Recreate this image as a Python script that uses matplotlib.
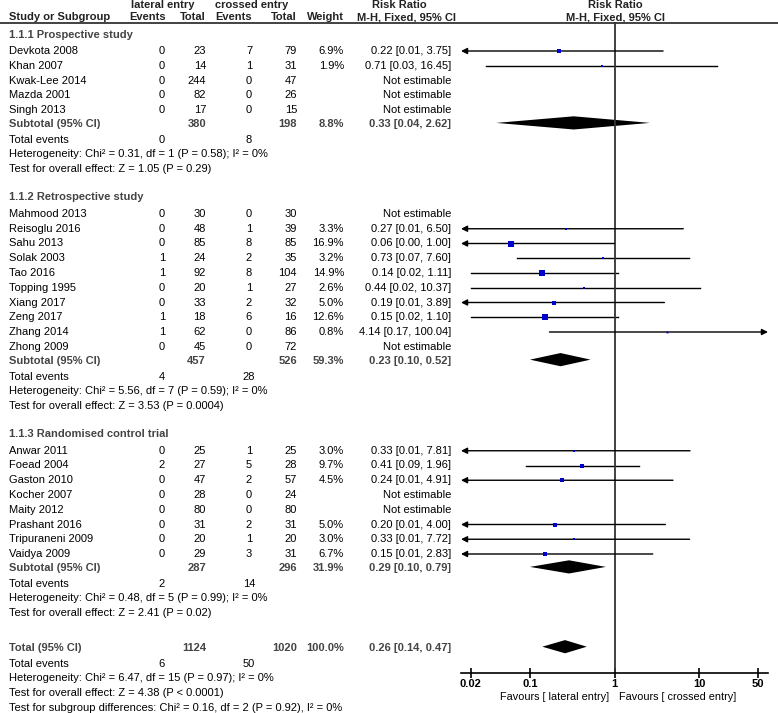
import numpy as np
import matplotlib.pyplot as plt

plt.rcParams['font.family'] = ['Liberation Sans', 'DejaVu Sans']
plt.rcParams['font.size'] = 8

# ---- data ----
group_titles = ['1.1.1 Prospective study', '1.1.2 Retrospective study', '1.1.3 Randomised control trial']

study_group = [0, 0, 0, 0, 0,
               1, 1, 1, 1, 1, 1, 1, 1, 1, 1,
               2, 2, 2, 2, 2, 2, 2, 2]
study_names = ['Devkota 2008', 'Khan 2007', 'Kwak-Lee 2014', 'Mazda 2001', 'Singh 2013',
               'Mahmood 2013', 'Reisoglu 2016', 'Sahu 2013', 'Solak 2003', 'Tao 2016',
               'Topping 1995', 'Xiang 2017', 'Zeng 2017', 'Zhang 2014', 'Zhong 2009',
               'Anwar 2011', 'Foead 2004', 'Gaston 2010', 'Kocher 2007', 'Maity 2012',
               'Prashant 2016', 'Tripuraneni 2009', 'Vaidya 2009']
lat_events = [0, 0, 0, 0, 0,
              0, 0, 0, 1, 1, 0, 0, 1, 1, 0,
              0, 2, 0, 0, 0, 0, 0, 0]
lat_total = [23, 14, 244, 82, 17,
             30, 48, 85, 24, 92, 20, 33, 18, 62, 45,
             25, 27, 47, 28, 80, 31, 20, 29]
cross_events = [7, 1, 0, 0, 0,
                0, 1, 8, 2, 8, 1, 2, 6, 0, 0,
                1, 5, 2, 0, 0, 2, 1, 3]
cross_total = [79, 31, 47, 26, 15,
               30, 39, 85, 35, 104, 27, 32, 16, 86, 72,
               25, 28, 57, 24, 80, 31, 20, 31]
weights = [6.9, 1.9, None, None, None,
           None, 3.3, 16.9, 3.2, 14.9, 2.6, 5.0, 12.6, 0.8, None,
           3.0, 9.7, 4.5, None, None, 5.0, 3.0, 6.7]
rr = [0.22, 0.71, None, None, None,
      None, 0.27, 0.06, 0.73, 0.14, 0.44, 0.19, 0.15, 4.14, None,
      0.33, 0.41, 0.24, None, None, 0.20, 0.33, 0.15]
ci_low = [0.01, 0.03, None, None, None,
          None, 0.01, 0.00, 0.07, 0.02, 0.02, 0.01, 0.02, 0.17, None,
          0.01, 0.09, 0.01, None, None, 0.01, 0.01, 0.01]
ci_high = [3.75, 16.45, None, None, None,
           None, 6.50, 1.00, 7.60, 1.11, 10.37, 3.89, 1.10, 100.04, None,
           7.81, 1.96, 4.91, None, None, 4.00, 7.72, 2.83]

sub_lat_total = [380, 457, 287]
sub_cross_total = [198, 526, 296]
sub_weight = [8.8, 59.3, 31.9]
sub_rr = [0.33, 0.23, 0.29]
sub_low = [0.04, 0.10, 0.10]
sub_high = [2.62, 0.52, 0.79]
sub_lat_events = [0, 4, 2]
sub_cross_events = [8, 28, 14]
sub_het = ['Heterogeneity: Chi² = 0.31, df = 1 (P = 0.58); I² = 0%',
           'Heterogeneity: Chi² = 5.56, df = 7 (P = 0.59); I² = 0%',
           'Heterogeneity: Chi² = 0.48, df = 5 (P = 0.99); I² = 0%']
sub_test = ['Test for overall effect: Z = 1.05 (P = 0.29)',
            'Test for overall effect: Z = 3.53 (P = 0.0004)',
            'Test for overall effect: Z = 2.41 (P = 0.02)']

total_lat, total_cross = 1124, 1020
total_rr, total_low, total_high = 0.26, 0.14, 0.47
total_lat_events, total_cross_events = 6, 50
total_notes = ['Heterogeneity: Chi² = 6.47, df = 15 (P = 0.97); I² = 0%',
               'Test for overall effect: Z = 4.38 (P < 0.0001)',
               'Test for subgroup differences: Chi² = 0.16, df = 2 (P = 0.92), I² = 0%']

tick_vals = [0.02, 0.1, 1, 10, 50]
tick_labels = ['0.02', '0.1', '1', '10', '50']

# ---- layout (pixel coords) ----
W, H = 778, 713
XMIN, XMAX = 0.0153, 65.3
X_NAME, X_E1, X_N1, X_E2, X_N2, X_W, X_CI = 9, 162, 206, 249, 297, 344, 451
LINE_Y, AXIS_Y = 23.3, 672.5
BOLD_C = '#444444'
SQ_C = '#0000cc'

fig = plt.figure(figsize=(W / 100, H / 100), dpi=100)
ax = fig.add_axes([0, 0, 1, 1])
ax.set_xlim(0, W)
ax.set_ylim(H, 0)
ax.axis('off')

fx0, fx1 = 461, 768
axf = fig.add_axes([fx0 / W, 0, (fx1 - fx0) / W, 1])
axf.set_facecolor('none')
axf.set_xscale('log')
axf.set_xlim(XMIN, XMAX)
axf.set_ylim(H, 0)
for s in ['top', 'left', 'right']:
    axf.spines[s].set_visible(False)
axf.spines['bottom'].set_position(('data', AXIS_Y))
axf.spines['bottom'].set_linewidth(1.2)
axf.set_yticks([])
axf.set_xticks(tick_vals)
axf.set_xticklabels(tick_labels, fontweight='bold')
axf.xaxis.set_minor_locator(plt.NullLocator())
axf.tick_params(axis='x', direction='inout', length=7, width=1.2, pad=1.5, labelsize=8)


def fmt_ci(r, lo, hi):
    return f'{r:.2f} [{lo:.2f}, {hi:.2f}]'


def txt(x, y, s, ha='left', bold=False, color='black', size=8):
    ax.text(x, y, s, ha=ha, va='center', fontweight='bold' if bold else 'normal',
            color=color, fontsize=size)


def draw_ci(y, r, lo, hi, w):
    left_out = lo < XMIN
    right_out = hi > XMAX
    a = max(lo, XMIN)
    b = min(hi, XMAX)
    arrow = dict(arrowstyle='-|>', color='black', lw=1, mutation_scale=9, shrinkA=0, shrinkB=0)
    if left_out:
        axf.annotate('', xy=(XMIN, y), xytext=(b, y), arrowprops=arrow)
    elif right_out:
        axf.annotate('', xy=(XMAX, y), xytext=(a, y), arrowprops=arrow)
    else:
        axf.plot([a, b], [y, y], color='black', lw=1)
    axf.plot(r, y, marker='s', color=SQ_C, ms=0.85 * np.sqrt(w) + 0.6, mew=0, zorder=3)


def draw_diamond(y, r, lo, hi):
    yc = y - 1.5
    axf.fill([lo, r, hi, r], [yc, yc - 6.6, yc, yc + 6.6], color='black', lw=0)


# header
for lab, x in [('lateral entry', 131), ('crossed entry', 215)]:
    txt(x, 5, lab, bold=True, color='#222222')
txt(399, 5, 'Risk Ratio', ha='center', bold=True, color='#222222')
txt(615, 5, 'Risk Ratio', ha='center', bold=True, color='#222222')
hdr = [(X_NAME, 'Study or Subgroup', 'left'), (166, 'Events', 'right'), (X_N1, 'Total', 'right'),
       (252, 'Events', 'right'), (X_N2, 'Total', 'right'), (X_W, 'Weight', 'right'),
       (456, 'M-H, Fixed, 95% CI', 'right'), (616, 'M-H, Fixed, 95% CI', 'center')]
for x, s, ha in hdr:
    txt(x, 17.5, s, ha=ha, bold=True, color='#222222')
ax.plot([0, W], [LINE_Y, LINE_Y], color='#222222', lw=1.2)

# body
y = 34.5
for g in range(3):
    txt(X_NAME, y, group_titles[g], bold=True, color=BOLD_C)
    y += 16.5
    idx = [i for i in range(len(study_names)) if study_group[i] == g]
    for i in idx:
        txt(X_NAME, y, study_names[i])
        txt(X_E1, y, str(lat_events[i]), ha='center')
        txt(X_N1, y, str(lat_total[i]), ha='right')
        txt(X_E2, y, str(cross_events[i]), ha='center')
        txt(X_N2, y, str(cross_total[i]), ha='right')
        if weights[i] is None:
            txt(X_CI, y, 'Not estimable', ha='right')
        else:
            txt(X_W, y, f'{weights[i]:.1f}%', ha='right')
            txt(X_CI, y, fmt_ci(rr[i], ci_low[i], ci_high[i]), ha='right')
            draw_ci(y, rr[i], ci_low[i], ci_high[i], weights[i])
        y += 14.75
    y += 14.4 - 14.75
    txt(X_NAME, y, 'Subtotal (95% CI)', bold=True, color=BOLD_C)
    txt(X_N1, y, str(sub_lat_total[g]), ha='right', bold=True, color=BOLD_C)
    txt(X_N2, y, str(sub_cross_total[g]), ha='right', bold=True, color=BOLD_C)
    txt(X_W, y, f'{sub_weight[g]:.1f}%', ha='right', bold=True, color=BOLD_C)
    txt(X_CI, y, fmt_ci(sub_rr[g], sub_low[g], sub_high[g]), ha='right', bold=True, color=BOLD_C)
    draw_diamond(y, sub_rr[g], sub_low[g], sub_high[g])
    y += 15.6
    txt(X_NAME, y, 'Total events')
    txt(X_E1, y, str(sub_lat_events[g]), ha='center')
    txt(X_E2, y, str(sub_cross_events[g]), ha='center')
    y += 14.2
    txt(X_NAME, y, sub_het[g])
    y += 15
    txt(X_NAME, y, sub_test[g])
    y += 28.3 if g < 2 else 35

# overall
txt(X_NAME, y, 'Total (95% CI)', bold=True, color=BOLD_C)
txt(X_N1, y, str(total_lat), ha='right', bold=True, color=BOLD_C)
txt(X_N2, y, str(total_cross), ha='right', bold=True, color=BOLD_C)
txt(X_W, y, '100.0%', ha='right', bold=True, color=BOLD_C)
txt(X_CI, y, fmt_ci(total_rr, total_low, total_high), ha='right', bold=True, color=BOLD_C)
draw_diamond(y, total_rr, total_low, total_high)
y += 15.6
txt(X_NAME, y, 'Total events')
txt(X_E1, y, str(total_lat_events), ha='center')
txt(X_E2, y, str(total_cross_events), ha='center')
for note in total_notes:
    y += 14.6
    txt(X_NAME, y, note)

# null line and favours labels
axf.plot([1, 1], [LINE_Y, AXIS_Y], color='#333333', lw=1.3)
txt(609, 697, 'Favours [ lateral entry]', ha='right', size=7.8)
txt(619, 697, 'Favours [ crossed entry]', ha='left', size=7.8)

fig.savefig('out.png', dpi=100)
